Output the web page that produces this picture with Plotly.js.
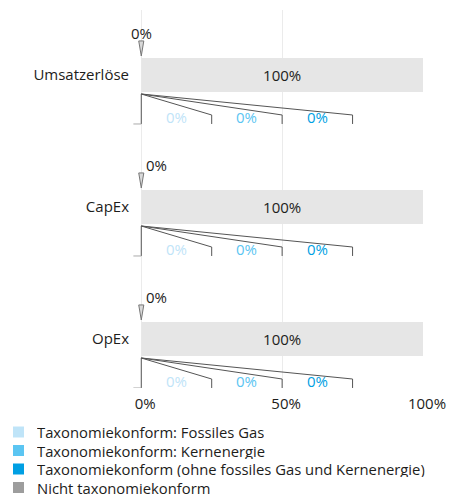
<!DOCTYPE html>
<html><head><meta charset="utf-8">
<script src="https://cdn.plot.ly/plotly-3.0.1.min.js"></script>
<style>html,body{margin:0;padding:0;background:#fff}#chart{width:449px;height:497px}</style>
</head><body><div id="chart"></div>
<script>
// ---- data ----
const categories = ['Umsatzerlöse', 'CapEx', 'OpEx'];
const fossilGas = [0, 0, 0];
const nuclear = [0, 0, 0];
const alignedOther = [0, 0, 0];
const notAligned = [100, 100, 100];
const xTickVals = [0, 50, 100];
const xTickText = ['0%', '50%', '100%'];
const seriesNames = [
  'Taxonomiekonform: Fossiles Gas',
  'Taxonomiekonform: Kernenergie',
  'Taxonomiekonform (ohne fossiles Gas und Kernenergie)',
  'Nicht taxonomiekonform'
];

// ---- style / layout constants ----
const W = 449, H = 497;
const M = {l: 130, r: 26, t: 10, b: 109};
const PW = W - M.l - M.r, PH = H - M.t - M.b;
const FONT = 'Open Sans, Liberation Sans, sans-serif';
const FS = 15;
const TXT = '#1d1d1b';
const seriesColors = ['#bfe4f8', '#5bc5f2', '#009fe3', '#9d9d9d'];
const barGray = '#e6e6e6';
const detailEnds = [25, 50, 75];
const detailCenters = [12.5, 37.5, 62.5];
const topLabelAnchor = [['center', 0], ['left', 3], ['left', 3]];
const px2x = p => (p - M.l) / PW;
const px2y = p => (H - M.b - p) / PH;
const F = (c, s) => ({family: FONT, size: s || FS, color: c || TXT});

const yPos = categories.map((c, i) => i);
const totalAligned = categories.map((c, i) => fossilGas[i] + nuclear[i] + alignedOther[i]);
const breakdown = [fossilGas, nuclear, alignedOther];

const traces = [
  {type: 'bar', orientation: 'h', y: yPos, x: totalAligned, width: 0.258,
   marker: {color: seriesColors[2]}, showlegend: false, hoverinfo: 'skip'},
  {type: 'bar', orientation: 'h', y: yPos, x: notAligned, base: totalAligned, width: 0.258,
   marker: {color: barGray}, showlegend: false, hoverinfo: 'skip',
   text: notAligned.map(v => v + '%'), textposition: 'inside', insidetextanchor: 'middle',
   textfont: F()}
];

const shapes = [];
const annotations = [];
const LINE = {color: '#555', width: 1};
yPos.forEach((y, i) => {
  const t = totalAligned[i];
  shapes.push({type: 'path', xref: 'x', yref: 'y',
    path: `M ${t - 0.9},${y - 0.258} L ${t + 0.9},${y - 0.258} L ${t},${y - 0.144} Z`,
    fillcolor: '#d9d9d9', line: {color: '#777', width: 1}});
  annotations.push({x: t, y: y - 0.316, xref: 'x', yref: 'y', text: t + '%', showarrow: false,
    xanchor: topLabelAnchor[i][0], xshift: topLabelAnchor[i][1], font: F()});
  const y0 = y + 0.144, y1 = y + 0.303, y2 = y + 0.371;
  shapes.push({type: 'line', xref: 'x', yref: 'y', x0: t, x1: t, y0: y0, y1: y2, line: LINE});
  shapes.push({type: 'line', xref: 'x', yref: 'y', x0: -2.8, x1: t, y0: y2, y1: y2, line: {color: '#aaa', width: 1}});
  detailEnds.forEach((e, k) => {
    shapes.push({type: 'path', xref: 'x', yref: 'y',
      path: `M ${t},${y0} L ${e},${y1} L ${e},${y2}`, line: LINE});
    annotations.push({x: detailCenters[k], y: y + 0.318, xref: 'x', yref: 'y',
      text: breakdown[k][i] + '%', showarrow: false, font: F(seriesColors[k])});
  });
});

// legend drawn from the series names
const legendRows = [432, 450.5, 469, 487.5];
seriesNames.forEach((n, k) => {
  const cy = legendRows[k];
  shapes.push({type: 'rect', xref: 'paper', yref: 'paper',
    x0: px2x(13), x1: px2x(24), y0: px2y(cy - 5.5), y1: px2y(cy + 5.5),
    fillcolor: seriesColors[k], line: {width: 0}});
  annotations.push({xref: 'paper', yref: 'paper', x: px2x(36), y: px2y(cy), text: n,
    showarrow: false, xanchor: 'left', yanchor: 'middle', height: 16, borderpad: 0,
    font: F(TXT, 14.8)});
});

const layout = {
  width: W, height: H, margin: M,
  paper_bgcolor: '#fff', plot_bgcolor: '#fff',
  barmode: 'overlay', showlegend: false,
  font: F(),
  xaxis: {range: [-4, 100], tickvals: xTickVals, ticktext: xTickText, showgrid: true,
    gridcolor: '#ebebeb', gridwidth: 1, zeroline: false, showline: false, fixedrange: true,
    tickfont: F(), ticklabelshift: 4, ticklabelstandoff: 5},
  yaxis: {range: [2.3712, -0.4924], tickvals: yPos, ticktext: categories, showgrid: false,
    zeroline: false, showline: false, ticks: '',
    tickfont: F(), fixedrange: true},
  shapes: shapes, annotations: annotations
};
Plotly.newPlot('chart', traces, layout, {displayModeBar: false, staticPlot: true});
</script></body></html>
